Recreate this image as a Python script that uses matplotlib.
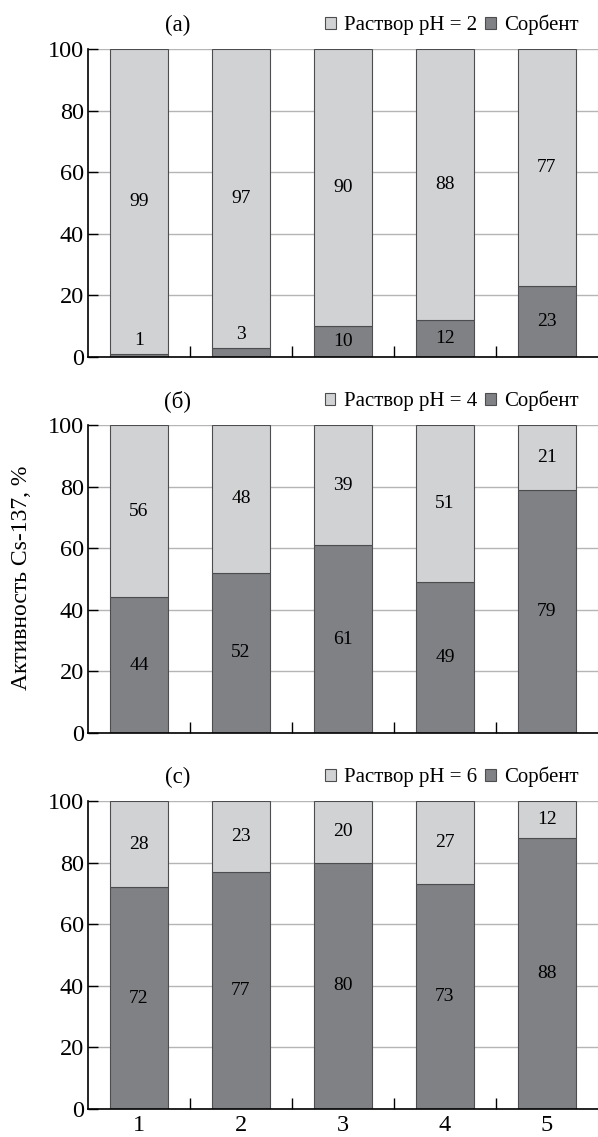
import matplotlib
matplotlib.use("Agg")
import matplotlib.pyplot as plt
import numpy as np

# Данные: доля активности Cs-137 (%) в растворе и на сорбенте
samples = [1, 2, 3, 4, 5]
sorbent_ph2 = [1, 3, 10, 12, 23]
solution_ph2 = [99, 97, 90, 88, 77]
sorbent_ph4 = [44, 52, 61, 49, 79]
solution_ph4 = [56, 48, 39, 51, 21]
sorbent_ph6 = [72, 77, 80, 73, 88]
solution_ph6 = [28, 23, 20, 27, 12]

panel_titles = ['(a)', '(б)', '(с)']
ph_values = [2, 4, 6]
yticks = [0, 20, 40, 60, 80, 100]

c_light = '#d1d2d4'
c_dark = '#808185'
c_edge = '#4d4d4f'

plt.rcParams['font.family'] = ['Liberation Serif', 'DejaVu Serif']

fig = plt.figure(figsize=(5.98, 11.37), dpi=100)

left = 88 / 598
width = 1 - left
height = 308 / 1137
tops = [49, 425, 801]

panels = [(sorbent_ph2, solution_ph2), (sorbent_ph4, solution_ph4),
          (sorbent_ph6, solution_ph6)]

x = np.array(samples)
for i, (sorb, sol) in enumerate(panels):
    bottom = 1 - (tops[i] + 308) / 1137
    ax = fig.add_axes([left, bottom, width, height])
    ax.set_axisbelow(True)
    ax.yaxis.grid(True, color='#b5b5b5', lw=1.0)

    b1 = ax.bar(x, sorb, width=0.56, color=c_dark, edgecolor=c_edge,
                lw=0.8, label='Сорбент')
    b2 = ax.bar(x, sol, width=0.56, bottom=sorb, color=c_light,
                edgecolor=c_edge, lw=0.8, label='Раствор pH = %d' % ph_values[i])

    for xi, s, r in zip(x, sorb, sol):
        # подписи в центре сегментов, маленькие - над столбиком
        if s < 5:
            ax.text(xi, s + 1.5, str(s), ha='center', va='bottom', fontsize=14)
        else:
            ax.text(xi, s / 2, str(s), ha='center', va='center', fontsize=14)
        ax.text(xi, s + r / 2, str(r), ha='center', va='center', fontsize=14)

    ax.set_xlim(0.5, 5.5)
    ax.set_ylim(0, 100)
    ax.set_yticks(yticks)
    ax.tick_params(axis='y', direction='in', length=7, width=1,
                   labelsize=17.5, pad=3)
    ax.set_xticks(x)
    ax.set_xticks(x[:-1] + 0.5, minor=True)
    ax.tick_params(axis='x', which='major', length=0, labelsize=17.5, pad=4)
    ax.tick_params(axis='x', which='minor', direction='in', length=8, width=1)
    if i < 2:
        ax.set_xticklabels([])
    for sp in ['top', 'right']:
        ax.spines[sp].set_visible(False)
    for sp in ['left', 'bottom']:
        ax.spines[sp].set_linewidth(1.2)

    ax.text(0.175, 1.078, panel_titles[i], transform=ax.transAxes,
            ha='center', va='center', fontsize=16.5)
    ax.legend(handles=[b2, b1], loc='center right',
              bbox_to_anchor=(0.962, 1.078), ncol=2, frameon=False,
              fontsize=15, handlelength=0.5, handleheight=0.5,
              handletextpad=0.4, columnspacing=0.4, borderpad=0,
              borderaxespad=0)

fig.text(22 / 598, 1 - 578 / 1137, 'Активность Cs-137, %', rotation=90,
         ha='center', va='center', fontsize=17)

plt.savefig('out.png', dpi=100)
